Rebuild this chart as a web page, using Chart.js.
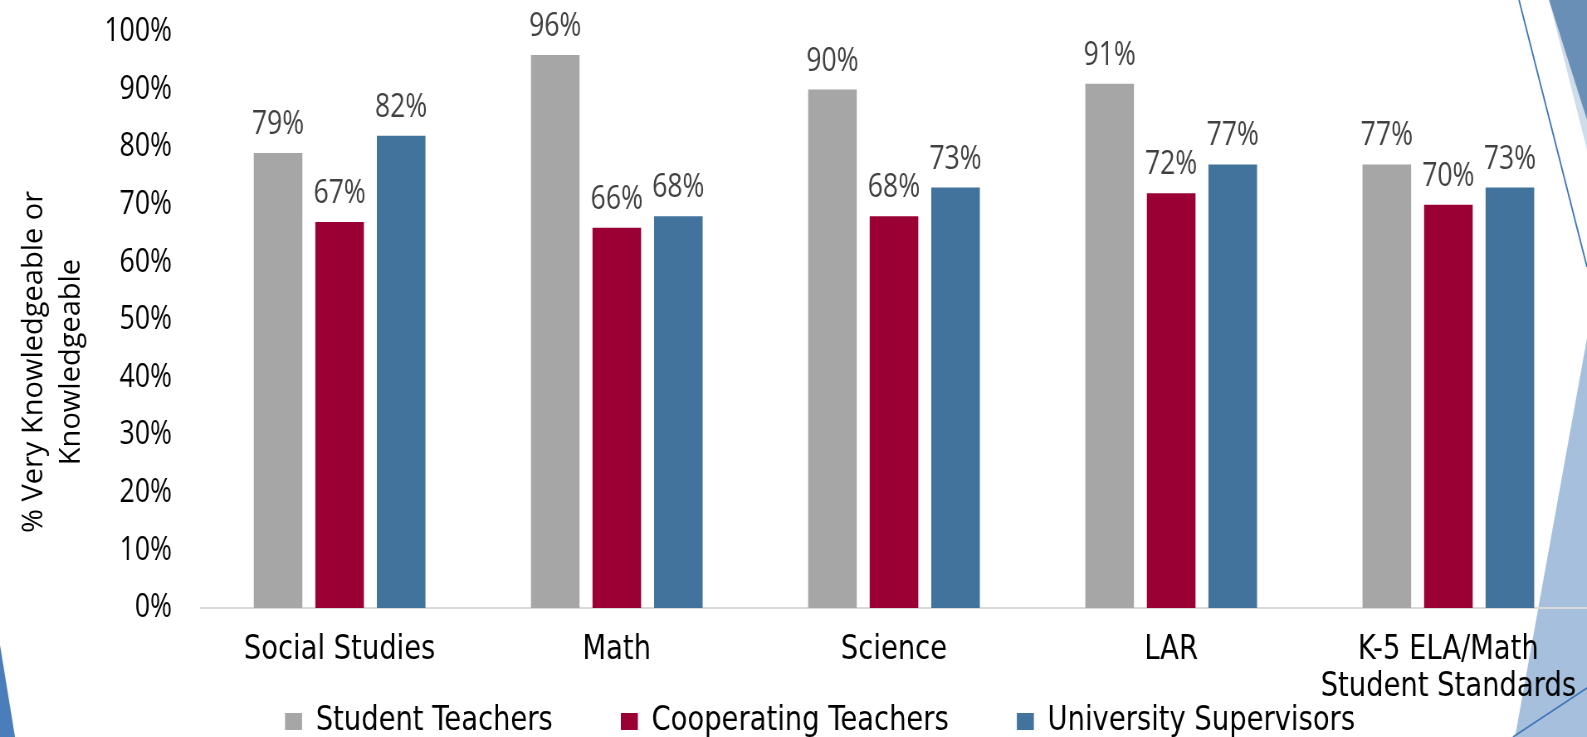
<!DOCTYPE html>
<html>
<head>
<meta charset="utf-8">
<script src="https://cdn.jsdelivr.net/npm/chart.js@4.4.1/dist/chart.umd.min.js"></script>
<style>
    html, body { margin: 0; padding: 0; background: #fff; overflow: hidden; }
    /* the source slide is squeezed horizontally, so draw wide and squeeze */
    #wrap { width: 1912px; height: 737px; position: relative; transform: scaleX(0.83); transform-origin: 0 0; }
</style>
</head>
<body>
<div id="wrap"><canvas id="knowledgeChart"></canvas></div>
<script>
const categories = ["Social Studies", "Math", "Science", "LAR", ["K-5 ELA/Math", "Student Standards"]];
const seriesNames = ["Student Teachers", "Cooperating Teachers", "University Supervisors"];
const studentTeachers = [79, 96, 90, 91, 77];
const cooperatingTeachers = [67, 66, 68, 72, 70];
const universitySupervisors = [82, 68, 73, 77, 73];
const yTicks = [0, 10, 20, 30, 40, 50, 60, 70, 80, 90, 100];
const yTitleLines = ["% Very Knowledgeable or", "Knowledgeable"];

const SQUEEZE = 0.83;
const seriesColors = ["#a6a6a6", "#9a0034", "#41739d"];
const labelFamily = "'DejaVu Sans', sans-serif";
const tickFamily = "'Open Sans', 'Noto Sans', sans-serif";

// slide decoration behind the chart (drawn in on-screen pixels)
const slideDecor = {
    id: "slideDecor",
    beforeDraw(chart) {
        const ctx = chart.ctx;
        const fillPoly = (points, color) => {
            ctx.beginPath();
            points.forEach(([x, y], i) => i ? ctx.lineTo(x, y) : ctx.moveTo(x, y));
            ctx.closePath();
            ctx.fillStyle = color;
            ctx.fill();
        };
        ctx.save();
        ctx.scale(1 / SQUEEZE, 1);
        fillPoly([[1549, 0], [1587, 0], [1587, 150]], "#cfdcea");
        fillPoly([[1549, 0], [1587, 0], [1587, 120]], "#6a8fb6");
        fillPoly([[1515, 737], [1587, 338], [1587, 737]], "#a5bfdc");
        fillPoly([[0, 645], [15, 737], [0, 737]], "#4a7ebb");
        ctx.strokeStyle = "#3f75b8";
        ctx.lineWidth = 1.5;
        ctx.beginPath();
        ctx.moveTo(1519, 0);
        ctx.lineTo(1587, 267);
        ctx.moveTo(1513, 737);
        ctx.lineTo(1587, 688);
        ctx.stroke();
        ctx.restore();
    }
};

// value labels above each bar
const barValues = {
    id: "barValues",
    afterDatasetsDraw(chart) {
        const ctx = chart.ctx;
        ctx.save();
        ctx.font = `32px ${tickFamily}`;
        ctx.fillStyle = "#404040";
        ctx.textAlign = "center";
        ctx.textBaseline = "alphabetic";
        chart.data.datasets.forEach((dataset, i) => {
            chart.getDatasetMeta(i).data.forEach((bar, j) => {
                ctx.fillText(`${dataset.data[j]}%`, bar.x, bar.y - 19);
            });
        });
        ctx.restore();
    }
};

// two-line rotated y axis title, not squeezed
const yTitle = {
    id: "yTitle",
    afterDraw(chart) {
        const ctx = chart.ctx;
        ctx.save();
        ctx.scale(1 / SQUEEZE, 1);
        ctx.font = `29px ${tickFamily}`;
        ctx.fillStyle = "#000";
        ctx.textAlign = "center";
        ctx.textBaseline = "alphabetic";
        [42, 80].forEach((x, i) => {
            ctx.save();
            ctx.translate(x, 362);
            ctx.rotate(-Math.PI / 2);
            ctx.fillText(yTitleLines[i], 0, 0);
            ctx.restore();
        });
        ctx.restore();
    }
};

const legendPlacement = {
    id: "legendPlacement",
    beforeInit(chart) {
        const originalFit = chart.legend.fit;
        chart.legend.fit = function () {
            originalFit.bind(this)();
            this.height = 34;
        };
    },
    afterLayout(chart) {
        const legend = chart.legend;
        legend.top = 623;
        legend.left += 32;
        legend.right += 32;
    }
};

new Chart(document.getElementById("knowledgeChart"), {
    type: "bar",
    data: {
        labels: categories,
        datasets: [
            { label: seriesNames[0], data: studentTeachers, backgroundColor: seriesColors[0] },
            { label: seriesNames[1], data: cooperatingTeachers, backgroundColor: seriesColors[1] },
            { label: seriesNames[2], data: universitySupervisors, backgroundColor: seriesColors[2] }
        ]
    },
    options: {
        responsive: true,
        maintainAspectRatio: false,
        animation: false,
        datasets: {
            bar: { categoryPercentage: 0.666, barPercentage: 0.79 }
        },
        layout: { padding: { top: 32, left: 0, right: 0, bottom: 0 } },
        plugins: {
            tooltip: { enabled: false },
            legend: {
                position: "bottom",
                labels: {
                    boxWidth: 20.5,
                    boxHeight: 17,
                    padding: 82,
                    color: "#000",
                    font: { family: labelFamily, size: 33 }
                }
            }
        },
        scales: {
            x: {
                afterFit(scale) {
                    scale.height = 95;
                    scale.paddingLeft = 0;
                    scale.paddingRight = 0;
                },
                grid: { display: false, drawTicks: false },
                border: { display: true, color: "#d9d9d9", width: 2 },
                ticks: {
                    color: "#000",
                    padding: 24,
                    maxRotation: 0,
                    autoSkip: false,
                    font: { family: labelFamily, size: 33, lineHeight: 1.12 }
                }
            },
            y: {
                min: 0,
                max: 100,
                afterFit(scale) {
                    scale.width = 201 / SQUEEZE;
                    scale.paddingTop = 0;
                    scale.paddingBottom = 0;
                },
                afterBuildTicks(scale) { scale.ticks = yTicks.map(value => ({ value })); },
                grid: { display: false, drawTicks: false },
                border: { display: false },
                ticks: {
                    color: "#000",
                    padding: 35,
                    font: { family: tickFamily, size: 32 },
                    callback: value => `${value}%`
                }
            }
        }
    },
    plugins: [slideDecor, barValues, yTitle, legendPlacement]
});
</script>
</body>
</html>
